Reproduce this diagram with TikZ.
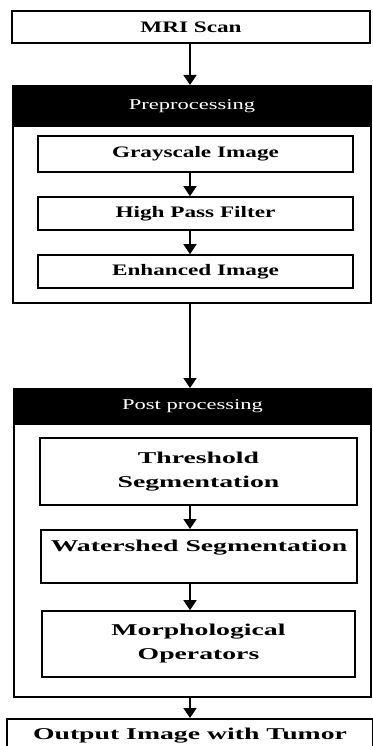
\documentclass[tikz,border=0pt]{standalone}
\usepackage{fontspec}
\usetikzlibrary{arrows.meta}
\newfontfamily\stepfont[FakeStretch=1.45]{Liberation Serif}
\newfontfamily\widefont[FakeStretch=1.68]{Liberation Serif}
\newfontfamily\headfont[FakeStretch=1.5]{Liberation Serif}
\tikzset{
	box/.style={draw, line width=1.6pt, inner sep=0pt, align=center},
	smallbox/.style={box, font=\stepfont\bfseries\fontsize{16}{20}\selectfont},
	bigbox/.style={box, font=\widefont\bfseries\fontsize{16.5}{24}\selectfont},
	head/.style={draw, fill=black, line width=1.6pt, text=white, inner sep=0pt,
		font=\headfont\fontsize{15}{18}\selectfont},
	arr/.style={line width=1.5pt, -{Triangle[width=13pt,length=10pt]}}
}
\begin{document}
\begin{tikzpicture}[x=1pt,y=-1pt]
			\useasboundingbox (0,0) rectangle (372,746);
			%arrow line
			\coordinate (axis) at (190,0);
			%input
			\node[smallbox, minimum width=358pt, minimum height=32pt] (mri) at (191,27) {MRI Scan};
			%preprocessing
			\node[draw, line width=1.6pt, minimum width=358pt, minimum height=217pt, anchor=north] (pre) at (192,85) {};
			\node[head, minimum width=358pt, minimum height=40pt, anchor=north] (prehead) at (192,85) {Preprocessing};
			\node[smallbox, minimum width=315pt, minimum height=36pt] (gray) at (195.5,154) {Grayscale Image};
			\node[smallbox, minimum width=315pt, minimum height=33pt] (hpf) at (195.5,213.5) {High Pass Filter};
			\node[smallbox, minimum width=315pt, minimum height=33pt] (enh) at (195.5,271.5) {Enhanced Image};
			%post processing
			\node[draw, line width=1.6pt, minimum width=357pt, minimum height=308pt, anchor=north] (post) at (192.5,388) {};
			\node[head, minimum width=357pt, minimum height=35pt, anchor=north] (posthead) at (192.5,388) {Post processing};
			\node[bigbox, minimum width=317pt, minimum height=67pt] (thr) at (198.5,471.5) {Threshold\\Segmentation};
			\node[bigbox, minimum width=316pt, text height=22pt, text depth=31pt, anchor=north] (wat) at (199,529) {Watershed Segmentation};
			\node[bigbox, minimum width=313pt, minimum height=66pt] (mor) at (198.5,644) {Morphological\\Operators};
			%output
			\node[bigbox, minimum width=366pt, text height=21pt, text depth=21pt, anchor=north] (out) at (190,718) {Output Image with Tumor};
			%arrows
			\draw[arr] (mri.south -| axis) -- (prehead.north -| axis);
			\foreach \a/\b in {gray/hpf,hpf/enh,thr/wat,wat/mor}
				\draw[arr] (\a.south -| axis) -- (\b.north -| axis);
			\draw[arr] (pre.south -| axis) -- (posthead.north -| axis);
			\draw[arr] (post.south -| axis) -- (out.north -| axis);
		\end{tikzpicture}
\end{document}
